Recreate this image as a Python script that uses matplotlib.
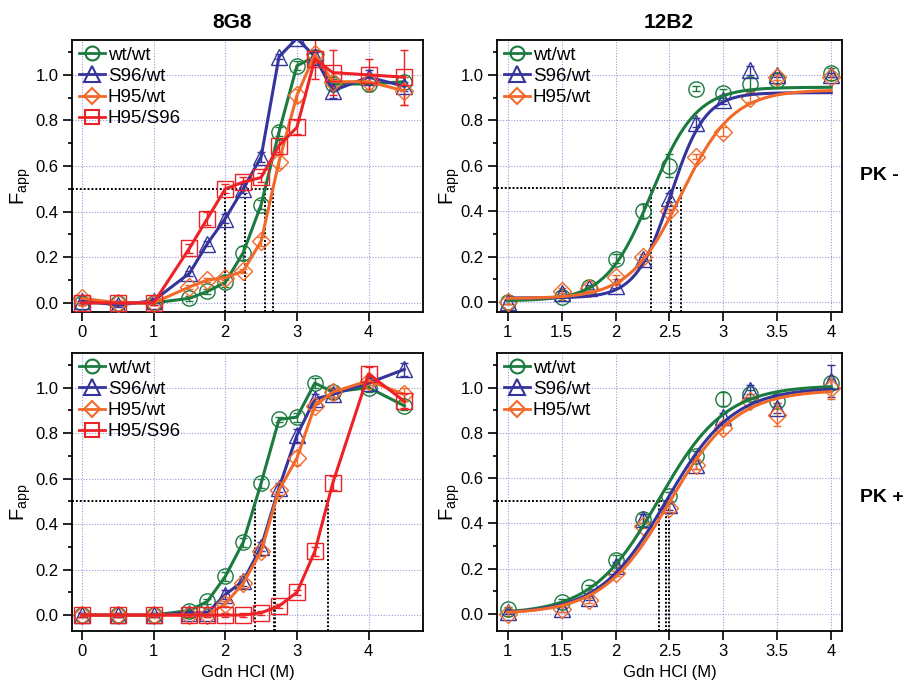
import matplotlib.pyplot as plt
import numpy as np
from matplotlib.lines import Line2D
from matplotlib.ticker import MultipleLocator, FormatStrFormatter

plt.rcParams['font.family'] = ['Liberation Sans', 'DejaVu Sans']
plt.rcParams['mathtext.fontset'] = 'custom'
plt.rcParams['mathtext.rm'] = 'Liberation Sans'

W, H = 904, 683

labels = ['wt/wt', 'S96/wt', 'H95/wt', 'H95/S96']
colors = ['#1b7a3e', '#34349c', '#f26a2a', '#ec2227']
markers = ['o', '^', 'D', 's']
msizes = [11, 12, 9.5, 11]

# denaturant concentrations (M)
x_8g8 = [0, 0.5, 1, 1.5, 1.75, 2, 2.25, 2.5, 2.75, 3, 3.25, 3.5, 4, 4.5]
x_12b2 = [1, 1.5, 1.75, 2, 2.25, 2.5, 2.75, 3, 3.25, 3.5, 4]

# 8G8, PK -
tl_wt = [0.00, 0.00, 0.00, 0.02, 0.05, 0.09, 0.22, 0.43, 0.75, 1.04, 1.08, 0.96, 0.96, 0.97]
tl_s96 = [0.01, -0.01, 0.01, 0.13, 0.26, 0.37, 0.50, 0.64, 1.08, 1.16, 1.08, 0.93, 0.99, 0.95]
tl_h95 = [0.02, 0.00, 0.00, 0.07, 0.10, 0.11, 0.14, 0.27, 0.62, 0.91, 1.09, 0.97, 0.97, 0.93]
tl_hs = [0.00, 0.00, 0.00, 0.24, 0.37, 0.50, 0.53, 0.55, 0.69, 0.77, 1.07, 1.01, 1.00, 0.99]
tl_wt_err = [0.01, 0.01, 0.01, 0.01, 0.01, 0.02, 0.03, 0.02, 0.02, 0.02, 0.02, 0.02, 0.03, 0.02]
tl_s96_err = [0.01, 0.01, 0.01, 0.01, 0.01, 0.02, 0.02, 0.02, 0.01, 0.00, 0.02, 0.03, 0.03, 0.02]
tl_h95_err = [0.01, 0.01, 0.01, 0.01, 0.01, 0.01, 0.01, 0.02, 0.03, 0.03, 0.02, 0.02, 0.03, 0.06]
tl_hs_err = [0.01, 0.01, 0.01, 0.02, 0.03, 0.02, 0.02, 0.02, 0.03, 0.03, 0.09, 0.10, 0.07, 0.12]
tl_mid = [2.56, 2.27, 2.67, 2.0]

# 8G8, PK +
bl_wt = [0.00, 0.00, 0.00, 0.02, 0.06, 0.17, 0.32, 0.58, 0.86, 0.87, 1.02, 0.98, 1.00, 0.92]
bl_s96 = [0.00, 0.00, 0.00, 0.01, 0.01, 0.09, 0.15, 0.30, 0.56, 0.79, 0.95, 0.97, 1.02, 1.08]
bl_h95 = [0.00, 0.00, 0.00, 0.00, 0.00, 0.05, 0.14, 0.28, 0.55, 0.69, 0.92, 0.98, 1.03, 0.97]
bl_hs = [0.00, 0.00, 0.00, 0.00, 0.00, 0.00, 0.00, 0.01, 0.04, 0.10, 0.28, 0.58, 1.06, 0.94]
bl_wt_err = [0.01, 0.01, 0.01, 0.01, 0.01, 0.02, 0.02, 0.02, 0.01, 0.02, 0.02, 0.02, 0.02, 0.02]
bl_s96_err = [0.01, 0.01, 0.01, 0.01, 0.01, 0.02, 0.02, 0.02, 0.02, 0.03, 0.02, 0.02, 0.02, 0.03]
bl_h95_err = [0.01, 0.01, 0.01, 0.01, 0.01, 0.01, 0.02, 0.02, 0.02, 0.03, 0.02, 0.02, 0.02, 0.03]
bl_hs_err = [0.01, 0.01, 0.01, 0.01, 0.01, 0.01, 0.01, 0.01, 0.01, 0.01, 0.02, 0.03, 0.03, 0.03]
bl_mid = [2.42, 2.70, 2.68, 3.43]

# 12B2, PK -
tr_wt = [0.00, 0.02, 0.066, 0.19, 0.40, 0.60, 0.94, 0.92, 0.96, 0.98, 1.01]
tr_s96 = [0.00, 0.04, 0.06, 0.07, 0.19, 0.46, 0.79, 0.89, 1.02, 1.00, 1.00]
tr_h95 = [0.00, 0.05, 0.06, 0.11, 0.20, 0.40, 0.64, 0.75, 0.90, 0.99, 0.99]
tr_wt_err = [0.01, 0.01, 0.01, 0.02, 0.03, 0.05, 0.01, 0.02, 0.03, 0.02, 0.02]
tr_s96_err = [0.01, 0.01, 0.01, 0.01, 0.01, 0.02, 0.02, 0.02, 0.02, 0.01, 0.01]
tr_h95_err = [0.01, 0.01, 0.01, 0.01, 0.01, 0.01, 0.01, 0.02, 0.02, 0.01, 0.01]
tr_mid = [2.33, 2.51, 2.61]
tr_width = [0.21, 0.16, 0.24]
tr_low = [0.005, 0.018, 0.015]
tr_high = [0.946, 0.922, 0.934]

# 12B2, PK +
br_wt = [0.02, 0.055, 0.12, 0.24, 0.42, 0.52, 0.70, 0.95, 0.97, 0.94, 1.02]
br_s96 = [0.01, 0.02, 0.07, 0.21, 0.42, 0.48, 0.66, 0.87, 0.99, 0.91, 1.03]
br_h95 = [0.00, 0.02, 0.06, 0.18, 0.39, 0.47, 0.66, 0.82, 0.94, 0.88, 1.00]
br_wt_err = [0.01, 0.01, 0.01, 0.02, 0.02, 0.02, 0.02, 0.03, 0.02, 0.02, 0.02]
br_s96_err = [0.01, 0.01, 0.01, 0.02, 0.02, 0.02, 0.02, 0.02, 0.02, 0.02, 0.07]
br_h95_err = [0.01, 0.01, 0.01, 0.01, 0.01, 0.02, 0.02, 0.02, 0.02, 0.05, 0.05]
br_mid = [2.40, 2.47, 2.50]
br_width = [0.31, 0.31, 0.31]
br_low = [0.0, 0.0, 0.0]
br_high = [1.01, 1.00, 0.99]


def px_axes(fig, x0, y0, x1, y1):
    return fig.add_axes([x0 / W, 1 - y1 / H, (x1 - x0) / W, (y1 - y0) / H])


def style_axes(ax, xlim, ylim, xmajor):
    ax.set_xlim(*xlim)
    ax.set_ylim(*ylim)
    ax.xaxis.set_major_locator(MultipleLocator(xmajor))
    ax.yaxis.set_major_locator(MultipleLocator(0.2))
    ax.yaxis.set_minor_locator(MultipleLocator(0.1))
    ax.yaxis.set_major_formatter(FormatStrFormatter('%.1f'))
    if xmajor == 0.5:
        ax.xaxis.set_major_formatter(FormatStrFormatter('%g'))
    ax.tick_params(which='major', direction='out', length=6.5, width=1.2,
                   labelsize=12, pad=3, top=False, right=False)
    ax.tick_params(which='minor', direction='out', length=3, width=1.2,
                   top=False, right=False)
    ax.tick_params(axis='x', which='minor', bottom=False)
    for s in ax.spines.values():
        s.set_linewidth(1.3)
    ax.grid(True, which='major', color='#9a9ae0', linestyle=(0, (1, 1.5)), linewidth=0.8)
    ax.set_axisbelow(True)


def guides(ax, mids):
    x0 = ax.get_xlim()[0]
    y0 = ax.get_ylim()[0]
    ax.hlines(0.5, x0, max(mids), colors='k', linestyles=(0, (1, 1)), linewidth=1.4, zorder=1.5)
    ax.vlines(mids, y0, 0.5, colors='k', linestyles=(0, (1, 1)), linewidth=1.4, zorder=1.5)


def add_legend(ax, n):
    handles = [Line2D([], [], color=colors[i], marker=markers[i], markersize=msizes[i] - 1,
                      fillstyle='none', markeredgewidth=1.5, linewidth=2)
               for i in range(n)]
    ax.legend(handles, labels[:n], loc='upper left', frameon=False, fontsize=13.5,
              handlelength=1.4, handletextpad=0.15, labelspacing=0.22,
              borderaxespad=0.15, borderpad=0.2)


def draw_lines(ax, x, series, errs):
    for i, (y, e) in enumerate(zip(series, errs)):
        ax.errorbar(x, y, yerr=e, fmt='none', ecolor=colors[i], elinewidth=1,
                    capsize=3, capthick=1, zorder=2)
        ax.plot(x, y, color=colors[i], linewidth=2.2, marker=markers[i],
                markersize=msizes[i], fillstyle='none', markeredgewidth=1,
                zorder=3 + i)


def draw_fits(ax, x, series, errs, mid, width, low, high):
    xf = np.linspace(min(x), max(x), 300)
    for i, (y, e) in enumerate(zip(series, errs)):
        ax.errorbar(x, y, yerr=e, fmt='none', ecolor=colors[i], elinewidth=1,
                    capsize=3, capthick=1, zorder=2)
        ax.plot(x, y, linestyle='none', marker=markers[i], color=colors[i],
                markersize=msizes[i], fillstyle='none', markeredgewidth=1, zorder=3)
        yf = low[i] + (high[i] - low[i]) / (1 + np.exp(-(xf - mid[i]) / width[i]))
        ax.plot(xf, yf, color=colors[i], linewidth=2.2, zorder=4 + i)


fig = plt.figure(figsize=(W / 100, H / 100), dpi=100)

ax_tl = px_axes(fig, 72, 40, 423, 312)
ax_tr = px_axes(fig, 497, 40, 842, 312)
ax_bl = px_axes(fig, 72, 353, 423, 631)
ax_br = px_axes(fig, 497, 353, 842, 631)

style_axes(ax_tl, (-0.14, 4.76), (-0.04, 1.153), 1)
style_axes(ax_bl, (-0.14, 4.76), (-0.07, 1.152), 1)
style_axes(ax_tr, (0.90, 4.10), (-0.044, 1.154), 0.5)
style_axes(ax_br, (0.90, 4.10), (-0.075, 1.153), 0.5)

guides(ax_tl, tl_mid)
guides(ax_bl, bl_mid)
guides(ax_tr, tr_mid)
guides(ax_br, br_mid)

draw_lines(ax_tl, x_8g8, [tl_wt, tl_s96, tl_h95, tl_hs],
           [tl_wt_err, tl_s96_err, tl_h95_err, tl_hs_err])
draw_lines(ax_bl, x_8g8, [bl_wt, bl_s96, bl_h95, bl_hs],
           [bl_wt_err, bl_s96_err, bl_h95_err, bl_hs_err])
draw_fits(ax_tr, x_12b2, [tr_wt, tr_s96, tr_h95], [tr_wt_err, tr_s96_err, tr_h95_err],
          tr_mid, tr_width, tr_low, tr_high)
draw_fits(ax_br, x_12b2, [br_wt, br_s96, br_h95], [br_wt_err, br_s96_err, br_h95_err],
          br_mid, br_width, br_low, br_high)

add_legend(ax_tl, 4)
add_legend(ax_bl, 4)
add_legend(ax_tr, 3)
add_legend(ax_br, 3)

for ax in (ax_bl, ax_br):
    ax.set_xlabel('Gdn HCl (M)', fontsize=12, labelpad=4)

ylab = r'$\mathrm{F}_{\mathrm{app}}$'
for xpix, ypix in [(21, 186), (450, 186), (21, 502), (450, 502)]:
    fig.text(xpix / W, 1 - ypix / H, ylab, rotation=90, fontsize=14.5,
             ha='center', va='center')

fig.text(232 / W, 1 - 22 / H, '8G8', fontsize=15, fontweight='bold', ha='center', va='center')
fig.text(669 / W, 1 - 22 / H, '12B2', fontsize=15, fontweight='bold', ha='center', va='center')
fig.text(860 / W, 1 - 176 / H, 'PK -', fontsize=14, fontweight='bold', ha='left', va='center')
fig.text(860 / W, 1 - 497 / H, 'PK +', fontsize=14, fontweight='bold', ha='left', va='center')

fig.savefig('out.png', dpi=100)
